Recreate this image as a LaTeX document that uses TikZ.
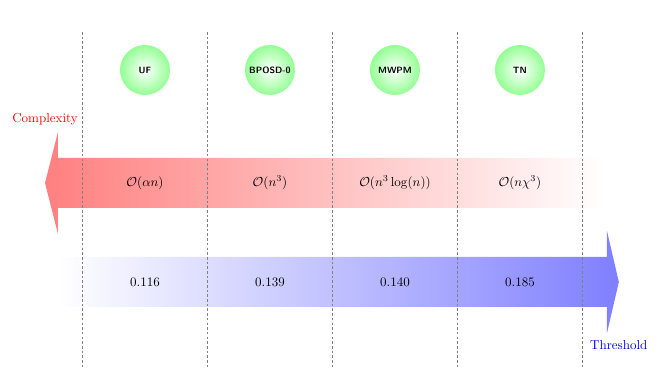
\documentclass[tikz,border=0pt]{standalone}
\usepackage{tikz}
\usetikzlibrary{shapes.geometric, arrows.meta, positioning, calc}
\usepackage{xcolor}
\usepackage{amsmath}
\usepackage{amssymb}

\begin{document}
\begin{tikzpicture}[
    algo/.style={circle, minimum size=1.35cm, inner sep=0pt, shading=radial,
                 inner color=white, outer color=green!42, font=\scriptsize\sffamily\bfseries},
    sep/.style={dash pattern=on 2pt off 1.6pt, gray, line width=0.4pt},
    val/.style={font=\normalsize}
]
    \useasboundingbox (0,0) rectangle (17.93,10.53);

    % complexity arrow (points left)
    \shade[left color=red!50, right color=white]
        (1.215,5.589) -- (1.566,6.97) -- (1.566,6.264) -- (16.335,6.264)
        -- (16.335,4.914) -- (1.566,4.914) -- (1.566,4.209) -- cycle;
    % threshold arrow (points right)
    \shade[left color=white, right color=blue!50]
        (16.71,2.916) -- (16.39,4.296) -- (16.39,3.591) -- (1.566,3.591)
        -- (1.566,2.241) -- (16.39,2.241) -- (16.39,1.536) -- cycle;

    % separators
    \coordinate (t1) at (2.214,9.666);  \coordinate (b1) at (2.214,0.594);
    \coordinate (t2) at (5.589,9.666);  \coordinate (b2) at (5.589,0.594);
    \coordinate (t3) at (8.964,9.666);  \coordinate (b3) at (8.964,0.594);
    \coordinate (t4) at (12.339,9.666); \coordinate (b4) at (12.339,0.594);
    \coordinate (t5) at (15.714,9.666); \coordinate (b5) at (15.714,0.594);
    \foreach \i in {1,...,5}
        \draw[sep] (t\i) -- (b\i);

    \node[algo] (uf)    at (3.915,8.64)  {UF};
    \node[algo] (bposd) at (7.29,8.64)   {BPOSD-0};
    \node[algo] (mwpm)  at (10.665,8.64) {MWPM};
    \node[algo] (tn)    at (14.04,8.64)  {TN};

    \node[val] (cuf)    at (3.915,5.589)  {$\mathcal{O}(\alpha n)$};
    \node[val] (cbposd) at (7.29,5.589)   {$\mathcal{O}(n^3)$};
    \node[val] (cmwpm)  at (10.665,5.589) {$\mathcal{O}(n^3\log(n))$};
    \node[val] (ctn)    at (14.04,5.589)  {$\mathcal{O}(n\chi^3)$};

    \node[val] (tuf)    at (3.915,2.916)  {0.116};
    \node[val] (tbposd) at (7.29,2.916)   {0.139};
    \node[val] (tmwpm)  at (10.665,2.916) {0.140};
    \node[val] (ttn)    at (14.04,2.916)  {0.185};

    \node[red] (complexity) at (1.215,7.317) {Complexity};
    \node[blue] (threshold) at (16.71,1.215) {Threshold};
\end{tikzpicture}
\end{document}
